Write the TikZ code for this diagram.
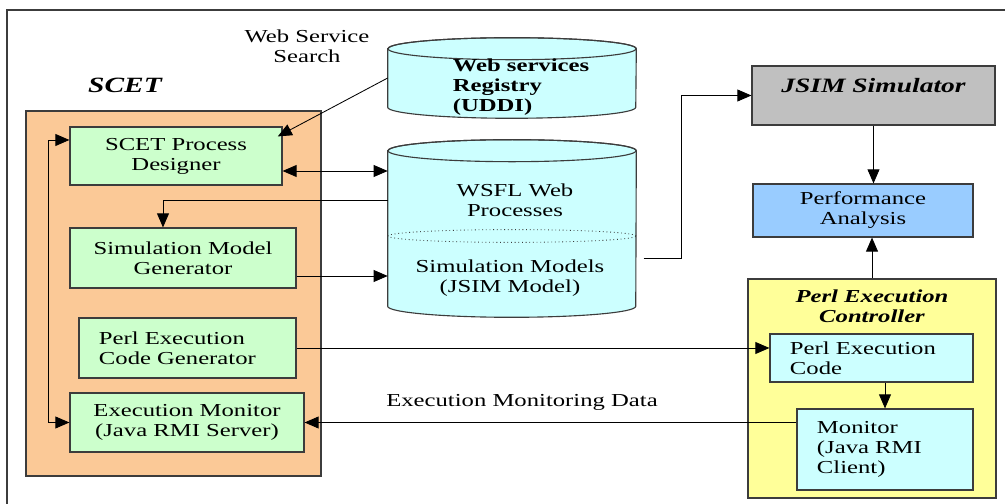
\documentclass[tikz,border=0pt]{standalone}
\usepackage{fontspec}
\setmainfont[FakeStretch=1.35]{Liberation Serif}
\usetikzlibrary{arrows.meta}

\definecolor{scetorange}{RGB}{251,201,151}
\definecolor{modgreen}{RGB}{204,255,204}
\definecolor{dbcyan}{RGB}{204,255,255}
\definecolor{simgray}{RGB}{192,192,192}
\definecolor{perfblue}{RGB}{153,204,255}
\definecolor{ctrlyellow}{RGB}{255,255,153}
\definecolor{edgegray}{RGB}{60,60,60}

\begin{document}
\begin{tikzpicture}[
    x=0.025cm, y=0.025cm,
    >={Triangle[length=10pt,width=8.5pt]},
    box/.style={draw=edgegray, line width=0.8pt, inner sep=2pt,
        align=center, font=\fontsize{13}{14.2}\selectfont},
    module/.style={box, fill=modgreen},
    part/.style={box, fill=dbcyan},
    txt/.style={align=center, inner sep=1pt, font=\fontsize{13}{14.2}\selectfont},
    heading/.style={align=center, inner sep=1pt,
        font=\fontsize{13}{14.2}\selectfont\bfseries\itshape},
    cyl/.style={draw=edgegray, line width=0.8pt, fill=dbcyan},
    link/.style={line width=0.6pt, draw=black}
]
    \useasboundingbox (0,0) rectangle (1005,504);
    \draw[edgegray, line width=0.9pt] (7,0) -- (7,494) -- (1005,494);

    % SCET side
    \node[box, fill=scetorange, minimum width=7.375cm, minimum height=9.125cm] (scet) at (173.5,210.5) {};
    \node[heading, font=\fontsize{15.5}{18}\selectfont\bfseries\itshape] (scettitle) at (125,419) {SCET};
    \node[module, minimum width=5.3cm, minimum height=1.45cm] (designer) at (176,348) {SCET Process\\Designer};
    \node[module, minimum width=5.65cm, minimum height=1.5cm] (simgen) at (183,246) {Simulation Model\\Generator};
    \node[module, align=left, text width=4.425cm, inner xsep=0.5cm, minimum height=1.5cm] (perlgen) at (187.5,156) {Perl Execution\\Code Generator};
    \node[module, minimum width=5.85cm, minimum height=1.475cm] (execmon) at (187,81.5) {Execution Monitor\\(Java RMI Server)};

    % repositories
    \node[txt] (search) at (307,458) {Web Service\\Search};
    \node[minimum width=6.2cm, minimum height=1.45cm, inner sep=0pt] (reg) at (512,426) {};
    \filldraw[cyl] (reg.north west) -- (reg.south west)
        arc[start angle=180, end angle=360, x radius=3.1cm, y radius=0.275cm]
        -- (reg.north east)
        arc[start angle=0, end angle=180, x radius=3.1cm, y radius=0.275cm] -- cycle;
    \draw[edgegray, line width=0.8pt] (reg.north) ellipse[x radius=3.1cm, y radius=0.275cm];
    \node[txt, align=left, font=\fontsize{13}{14.2}\selectfont\bfseries] (regtxt) at (521,417) {Web services\\ Registry\\(UDDI)};

    \node[minimum width=6.2cm, minimum height=3.875cm, inner sep=0pt] (db) at (512,275.5) {};
    \filldraw[cyl] (db.north west) -- (db.south west)
        arc[start angle=180, end angle=360, x radius=3.1cm, y radius=0.275cm]
        -- (db.north east)
        arc[start angle=0, end angle=180, x radius=3.1cm, y radius=0.275cm] -- cycle;
    \draw[edgegray, line width=0.8pt] (db.north) ellipse[x radius=3.1cm, y radius=0.275cm];
    \draw[edgegray, line width=0.6pt, dotted] (512,268) ellipse[x radius=3.1cm, y radius=0.16cm];
    \node[txt] (wsfl) at (515,304) {WSFL Web\\Processes};
    \node[txt] (models) at (510,226) {Simulation Models\\(JSIM Model)};

    % simulator side
    \node[box, fill=simgray, minimum width=6.075cm, minimum height=1.475cm, text depth=0.5cm,
        font=\fontsize{14.5}{17}\selectfont\bfseries\itshape] (jsim) at (873.5,408.5) {JSIM Simulator};
    \node[box, fill=perfblue, minimum width=5.5cm, minimum height=1.325cm] (perf) at (863,293.5) {Performance\\Analysis};
    \node[box, fill=ctrlyellow, minimum width=6.2cm, minimum height=5.475cm] (ctrl) at (872,115.5) {};
    \node[heading] (ctrltitle) at (872,197.5) {Perl Execution\\Controller};
    \node[part, align=left, text width=4.075cm, inner xsep=0.5cm, minimum height=1.2cm] (perlcode) at (871.5,146) {Perl Execution\\Code};
    \node[part, align=left, text width=3.4cm, inner xsep=0.5cm, minimum height=2.025cm] (clientmon) at (885,54.5) {Monitor\\(Java RMI\\Client)};
    \node[txt] (mondata) at (522,102) {Execution Monitoring Data};

    % connectors
    \coordinate (dsgin) at ([yshift=0.4cm]designer.west);
    \coordinate (dsgdb) at ([yshift=-0.375cm]designer.east);
    \coordinate (simout) at ([yshift=-0.45cm]simgen.east);
    \coordinate (dbout) at ([xshift=0.18cm,yshift=-0.76cm]db.east);
    \draw[link, <->] (dsgin) -| ([xshift=-0.525cm]execmon.west) -- (execmon.west);
    \draw[link, ->] (reg.west) -- ([xshift=-0.12cm,yshift=-0.25cm]designer.north east);
    \draw[link, <->] (dsgdb) -- (dsgdb -| db.west);
    \draw[link, ->] ([yshift=0.69cm]db.west) -| ([xshift=-0.5cm]simgen.north);
    \draw[link, ->] (simout) -- (simout -| db.west);
    \draw[link, ->] (dbout) -| ([xshift=-1.75cm]jsim.west) -- (jsim.west);
    \draw[link, ->] (jsim.south) -- (jsim.south |- perf.north);
    \draw[link, ->] (ctrl.north) -- (ctrl.north |- perf.south);
    \draw[link, ->] (perlgen.east) -- (perlgen.east -| perlcode.west);
    \draw[link, ->] (clientmon.north |- perlcode.south) -- (clientmon.north);
    \draw[link, ->] (clientmon.west |- execmon.east) -- (execmon.east);
\end{tikzpicture}
\end{document}
